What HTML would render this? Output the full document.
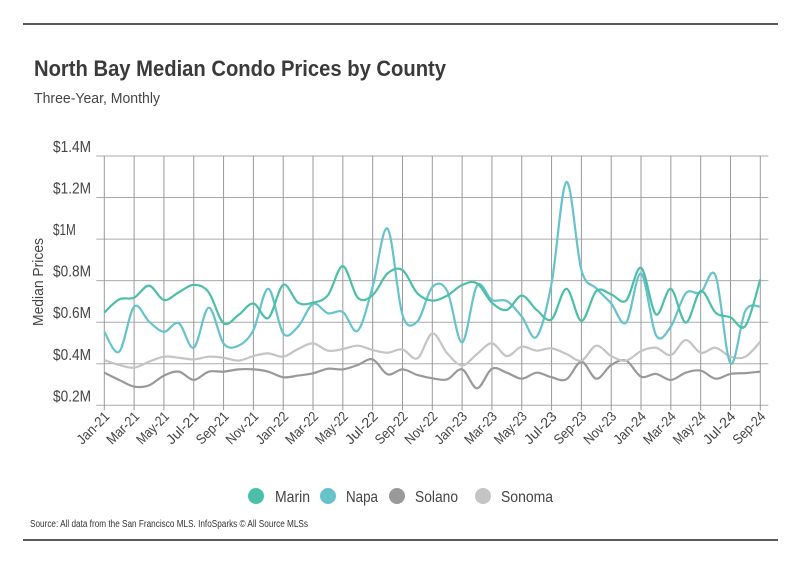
<!DOCTYPE html>
<html><head><meta charset="utf-8">
<style>
body{margin:0;background:#fff;}
svg text{font-family:"Liberation Sans Narrow","Liberation Sans",sans-serif;}
</style></head>
<body>
<svg width="801" height="575" viewBox="0 0 801 575" xmlns="http://www.w3.org/2000/svg">
<line x1="23" y1="24" x2="778" y2="24" stroke="#222" stroke-width="1.5"/>
<text x="34" y="76" font-size="22" font-weight="bold" fill="#3a3a3a" textLength="412" lengthAdjust="spacingAndGlyphs">North Bay Median Condo Prices by County</text>
<text x="34" y="103" font-size="15" fill="#444" textLength="126" lengthAdjust="spacingAndGlyphs">Three-Year, Monthly</text>
<g id="grid"></g>
<g id="ylabels"></g>
<text transform="translate(43,282) rotate(-90)" text-anchor="middle" font-size="15" fill="#444" textLength="88" lengthAdjust="spacingAndGlyphs">Median Prices</text>
<g id="series"></g>
<g id="xlabels"></g>
<g>
<g><circle cx="256" cy="496" r="8" fill="#4dbfa8"/><text x="275" y="502" font-size="16" fill="#444" textLength="35" lengthAdjust="spacingAndGlyphs">Marin</text></g>
<g><circle cx="328" cy="496" r="8" fill="#66c3cc"/><text x="346" y="502" font-size="16" fill="#444" textLength="32" lengthAdjust="spacingAndGlyphs">Napa</text></g>
<g><circle cx="397" cy="496" r="8" fill="#999"/><text x="415" y="502" font-size="16" fill="#444" textLength="43" lengthAdjust="spacingAndGlyphs">Solano</text></g>
<g><circle cx="483" cy="496" r="8" fill="#c4c4c4"/><text x="501" y="502" font-size="16" fill="#444" textLength="52" lengthAdjust="spacingAndGlyphs">Sonoma</text></g>
</g>
<text x="30" y="527" font-size="10" fill="#333" textLength="278" lengthAdjust="spacingAndGlyphs">Source:  All data from the San Francisco MLS. InfoSparks © All Source MLSs</text>
<line x1="23" y1="540" x2="778" y2="540" stroke="#222" stroke-width="1.5"/>
</svg>
<script>
const months=["Jan-21","Feb-21","Mar-21","Apr-21","May-21","Jun-21","Jul-21","Aug-21","Sep-21","Oct-21","Nov-21","Dec-21","Jan-22","Feb-22","Mar-22","Apr-22","May-22","Jun-22","Jul-22","Aug-22","Sep-22","Oct-22","Nov-22","Dec-22","Jan-23","Feb-23","Mar-23","Apr-23","May-23","Jun-23","Jul-23","Aug-23","Sep-23","Oct-23","Nov-23","Dec-23","Jan-24","Feb-24","Mar-24","Apr-24","May-24","Jun-24","Jul-24","Aug-24","Sep-24"];
const yTicks=[0.2,0.4,0.6,0.8,1.0,1.2,1.4];
const yTickLabels=["$0.2M","$0.4M","$0.6M","$0.8M","$1M","$1.2M","$1.4M"];
const marin=[0.647,0.71,0.718,0.776,0.707,0.744,0.78,0.744,0.595,0.635,0.69,0.62,0.78,0.694,0.694,0.73,0.87,0.718,0.73,0.835,0.851,0.739,0.704,0.728,0.779,0.787,0.694,0.659,0.728,0.659,0.614,0.761,0.606,0.75,0.734,0.704,0.862,0.638,0.761,0.598,0.75,0.646,0.623,0.582,0.806];
const napa=[0.553,0.458,0.675,0.603,0.554,0.595,0.477,0.67,0.498,0.487,0.562,0.761,0.546,0.579,0.688,0.643,0.649,0.559,0.771,1.05,0.635,0.604,0.769,0.75,0.503,0.776,0.707,0.702,0.627,0.53,0.787,1.275,0.851,0.763,0.69,0.598,0.835,0.538,0.579,0.739,0.742,0.824,0.402,0.655,0.675];
const solano=[0.357,0.322,0.29,0.296,0.343,0.362,0.322,0.362,0.362,0.373,0.373,0.362,0.335,0.343,0.354,0.376,0.373,0.394,0.421,0.349,0.373,0.346,0.33,0.325,0.373,0.282,0.376,0.357,0.328,0.357,0.335,0.325,0.41,0.328,0.394,0.415,0.338,0.351,0.322,0.357,0.367,0.328,0.351,0.355,0.362];
const sonoma=[0.417,0.394,0.381,0.41,0.434,0.429,0.421,0.434,0.429,0.415,0.437,0.45,0.434,0.471,0.498,0.463,0.471,0.487,0.466,0.453,0.469,0.426,0.546,0.45,0.392,0.447,0.498,0.437,0.482,0.463,0.474,0.447,0.415,0.487,0.437,0.415,0.461,0.477,0.442,0.514,0.453,0.477,0.434,0.434,0.506];
const NS="http://www.w3.org/2000/svg";
const X0=104.3,X1=760.3,Y0=405.3,Y1=156;
const xs=i=>X0+(X1-X0)*i/(months.length-1);
const ys=v=>Y0-(v-0.2)/(1.2)*(Y0-Y1);
function mk(tag,attrs,parent){const e=document.createElementNS(NS,tag);for(const k in attrs)e.setAttribute(k,attrs[k]);parent.appendChild(e);return e;}
const grid=document.getElementById('grid');
yTicks.forEach((t,i)=>{
 const l=mk('line',{x1:X0-8,x2:X1+8,y1:ys(t),y2:ys(t),stroke:'#aaa','stroke-width':1},grid);
 
 
 const tx=mk('text',{x:53,y:ys(t)-4,'font-size':16,fill:'#444',textLength:yTickLabels[i].length*7.6,lengthAdjust:'spacingAndGlyphs'},document.getElementById('ylabels'));
 tx.textContent=yTickLabels[i];
 
 
});
months.forEach((m,i)=>{
 if(i%2)return;
 const l=mk('line',{x1:xs(i),x2:xs(i),y1:Y1,y2:Y0+5,stroke:'#999','stroke-width':1},grid);
 
 
 const tx=mk('text',{'text-anchor':'end','font-size':14,fill:'#444',textLength:m.length*6.6,lengthAdjust:'spacingAndGlyphs',transform:`translate(${xs(i)+6},${Y0+12}) rotate(-45)`},document.getElementById('xlabels'));
 tx.textContent=m;
 
 
});
function path(vals){
 const p=vals.map((v,i)=>[xs(i),ys(v)]);
 let d=`M${p[0][0]},${p[0][1]}`;
 for(let i=0;i<p.length-1;i++){
  const a=p[i-1]||p[i],b=p[i],c=p[i+1],e=p[i+2]||c;
  const c1=[b[0]+(c[0]-a[0])/6,b[1]+(c[1]-a[1])/6],c2=[c[0]-(e[0]-b[0])/6,c[1]-(e[1]-b[1])/6];
  d+=` C${c1[0]},${c1[1]} ${c2[0]},${c2[1]} ${c[0]},${c[1]}`;
 }
 return d;
}
const sg=document.getElementById('series');
[[solano,'#999','solano-line'],[sonoma,'#c4c4c4','sonoma-line'],[napa,'#66c3cc','napa-line'],[marin,'#4dbfa8','marin-line']].forEach(s=>{
 const el=mk('path',{d:path(s[0]),fill:'none',stroke:s[1],'stroke-width':2.2},sg);
 
 
});
</script>
</body></html>
